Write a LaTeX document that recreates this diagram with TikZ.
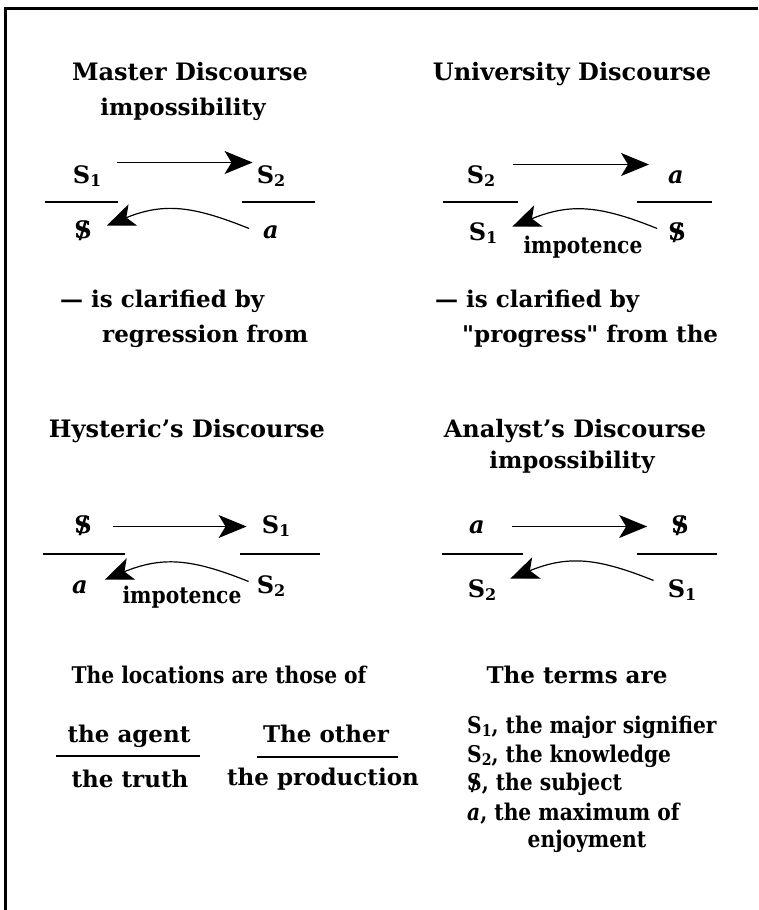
\documentclass[tikz,border=0pt]{standalone}
\usepackage{fontspec}
\setmainfont{DejaVu Serif}
\newfontfamily\narrowfont[FakeStretch=0.88]{DejaVu Serif}
\usetikzlibrary{arrows.meta}

\newcommand\sub[1]{\raisebox{-3pt}{\fontsize{16}{16}\selectfont #1}}
\newcommand\barS{\ooalign{S\cr\hidewidth/\hidewidth}}

\tikzset{
  head/.style={font=\fontsize{24}{28}\selectfont\bfseries, inner sep=0pt, anchor=base},
  txt/.style={font=\fontsize{23}{27}\selectfont\bfseries, inner sep=0pt, anchor=base},
  term/.style={head, text height=18pt, text depth=5pt},
  note/.style={font=\narrowfont\fontsize{23}{27}\selectfont\bfseries, inner sep=0pt, anchor=base},
  list/.style={note, anchor=base west},
  bar/.style={line width=1.8pt},
  fwd/.style={line width=1.2pt, -{Stealth[length=28pt,width=23pt,inset=7pt]}},
  bk/.style={fwd, out=158, in=22, looseness=1.1},
}

\begin{document}
\begin{tikzpicture}[x=1pt, y=1pt]
    \useasboundingbox (0,0) rectangle (758,-910);
    % Frame
    \draw[line width=3pt] (5,-910) -- (5,-8) -- (758,-8);

    % Master discourse
    \node[head] (t1) at (190,-80) {Master Discourse};
    \node[txt] (i1) at (183,-115) {impossibility};
    \node[term] (m1) at (87,-183) {S\sub{1}};
    \node[term] (m2) at (271,-183) {S\sub{2}};
    \node[term] (m3) at (83,-238) {\barS};
    \node[term] (m4) at (271,-238) {\textit{a}};
    \draw[bar] (45,-202) -- (118,-202);
    \draw[bar] (242,-202) -- (315,-202);
    \draw[fwd] ([xshift=16pt,yshift=14pt]m1.east) -- ([xshift=-4pt,yshift=14pt]m2.west);
    \draw[bk] ([xshift=-14pt,yshift=3pt]m4.west) to ([xshift=15pt,yshift=6pt]m3.east);
    \node[txt, anchor=base west] (c1) at (60,-307) {--- is clarified by};
    \node[txt, anchor=base west] (r1) at (102,-342) {regression from};

    % University discourse
    \node[head] (t2) at (572,-80) {University Discourse};
    \node[term] (m5) at (481,-183) {S\sub{2}};
    \node[term] (m6) at (676,-183) {\textit{a}};
    \node[term] (m7) at (483,-240) {S\sub{1}};
    \node[term] (m8) at (677,-240) {\barS};
    \draw[bar] (443,-202) -- (518,-202);
    \draw[bar] (637,-202) -- (712,-202);
    \draw[fwd] ([xshift=18pt,yshift=12pt]m5.east) -- ([xshift=-19pt,yshift=12pt]m6.west);
    \draw[bk] ([xshift=-11pt,yshift=5pt]m8.west) to ([xshift=15pt,yshift=7pt]m7.east);
    \node[note] (p2) at (583,-253) {impotence};
    \node[txt, anchor=base west] (c2) at (435,-307) {--- is clarified by};
    \node[txt, anchor=base west] (r2) at (462,-342) {\textquotedbl progress\textquotedbl{} from the};

    % Hysteric's discourse
    \node[head] (t3) at (187,-437) {Hysteric’s Discourse};
    \node[term] (m9) at (83,-533) {\barS};
    \node[term] (m10) at (276,-533) {S\sub{1}};
    \node[term] (m11) at (80,-593) {\textit{a}};
    \node[term] (m12) at (271,-593) {S\sub{2}};
    \draw[bar] (43,-554) -- (125,-554);
    \draw[bar] (240,-554) -- (320,-554);
    \draw[fwd] ([xshift=21pt]m9.east) -- ([xshift=-15pt]m10.west);
    \draw[bk] ([xshift=-8pt,yshift=5pt]m12.west) to ([xshift=17pt,yshift=7pt]m11.east);
    \node[note] (p3) at (182,-603) {impotence};

    % Analyst's discourse
    \node[head] (t4) at (575,-437) {Analyst’s Discourse};
    \node[txt] (i4) at (572,-468) {impossibility};
    \node[term] (m13) at (477,-533) {\textit{a}};
    \node[term] (m14) at (680,-533) {\barS};
    \node[term] (m15) at (482,-597) {S\sub{2}};
    \node[term] (m16) at (682,-597) {S\sub{1}};
    \draw[bar] (442,-554) -- (523,-554);
    \draw[bar] (637,-554) -- (717,-554);
    \draw[fwd] ([xshift=27pt]m13.east) -- ([xshift=-24pt]m14.west);
    \draw[bk] ([xshift=-14pt,yshift=10pt]m16.west) to ([xshift=14pt,yshift=12pt]m15.east);

    % Locations
    \node[note] (loc) at (219,-683) {The locations are those of};
    \node[txt] (ag) at (129,-742) {the agent};
    \node[txt] (tr) at (130,-787) {the truth};
    \draw[bar] (56,-756) -- (200,-756);
    \node[txt] (ot) at (326,-742) {The other};
    \node[txt] (pr) at (323,-785) {the production};
    \draw[bar] (257,-757) -- (398,-757);

    % Terms
    \node[txt] (trm) at (577,-683) {The terms are};
    \node[list] (l1) at (467,-733) {S\sub{1}, the major signifier};
    \node[list] (l2) at (467,-762) {S\sub{2}, the knowledge};
    \node[list] (l3) at (467,-790) {\barS, the subject};
    \node[list] (l4) at (467,-820) {\textit{a}, the maximum of};
    \node[note] (l5) at (587,-847) {enjoyment};
\end{tikzpicture}
\end{document}
